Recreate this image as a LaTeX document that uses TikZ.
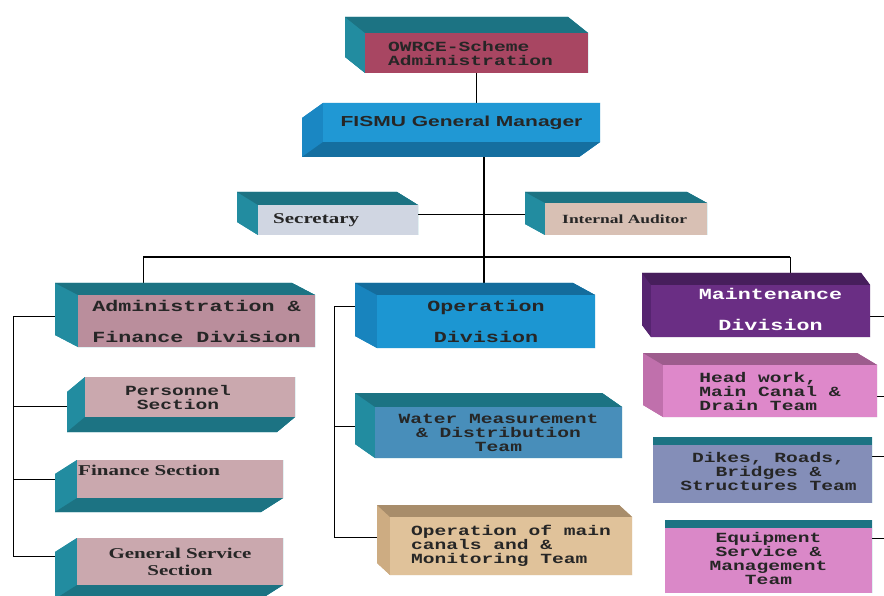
\documentclass[tikz,border=0pt]{standalone}
\usepackage{fontspec}
\newfontfamily\boxmono[FakeStretch=1.4]{Liberation Mono}
\newfontfamily\boxserif[FakeStretch=1.4]{Liberation Serif}
\newfontfamily\boxsans[FakeStretch=1.45]{Liberation Sans}
\usetikzlibrary{calc,fit,backgrounds}

\definecolor{sideteal}{RGB}{34,140,160}
\definecolor{owrcered}{RGB}{168,70,98}
\definecolor{fismublue}{RGB}{32,152,212}
\definecolor{fismuside}{RGB}{26,135,195}
\definecolor{secgrey}{RGB}{208,214,226}
\definecolor{audtan}{RGB}{216,192,180}
\definecolor{admmauve}{RGB}{186,142,156}
\definecolor{secmauve}{RGB}{202,168,174}
\definecolor{opblue}{RGB}{28,150,210}
\definecolor{opside}{RGB}{24,132,190}
\definecolor{watblue}{RGB}{72,142,186}
\definecolor{cantan}{RGB}{224,194,154}
\definecolor{canside}{RGB}{205,172,130}
\definecolor{mntpurple}{RGB}{106,46,132}
\definecolor{mntside}{RGB}{86,36,112}
\definecolor{hedpink}{RGB}{222,136,202}
\definecolor{hedside}{RGB}{192,112,172}
\definecolor{dikblue}{RGB}{132,142,184}
\definecolor{eqppink}{RGB}{218,136,200}

\def\orgdepthy#1,#2\relax{#2}
% #1 name, #2 front top left, #3 front bottom right, #4 depth,
% #5 front colour, #6 side colour, #7 text style, #8 text
\newcommand{\orgbox}[8]{%
  \coordinate (#1-nw) at (#2);
  \coordinate (#1-se) at (#3);
  \coordinate (#1-ne) at (#1-nw -| #1-se);
  \coordinate (#1-sw) at (#1-se -| #1-nw);
  \coordinate (#1-bnw) at ($(#1-nw)+(#4)$);
  \coordinate (#1-bne) at ($(#1-ne)+(#4)$);
  \coordinate (#1-bsw) at ($(#1-sw)+(#4)$);
  \coordinate (#1-bse) at ($(#1-se)+(#4)$);
  \fill[#6] (#1-nw) -- (#1-ne) -- (#1-bne) -- (#1-bnw) -- cycle;
  \fill[#6] (#1-sw) -- (#1-se) -- (#1-bse) -- (#1-bsw) -- cycle;
  \fill[#6] (#1-nw) -- (#1-sw) -- (#1-bsw) -- (#1-bnw) -- cycle;
  \fill[#6] (#1-ne) -- (#1-se) -- (#1-bse) -- (#1-bne) -- cycle;
  \fill[#6] (#1-bnw) rectangle (#1-bse);
  % darker top (or bottom) face
  \pgfmathsetmacro\orgdy{\orgdepthy#4\relax}
  \ifdim\orgdy pt<0pt
    \fill[#6!82!black] (#1-nw) -- (#1-ne) -- (#1-bne) -- (#1-bnw) -- cycle;
  \else
    \fill[#6!82!black] (#1-sw) -- (#1-se) -- (#1-bse) -- (#1-bsw) -- cycle;
  \fi
  \node[fit=(#1-nw)(#1-se),fill=#5] (#1) {};
  \node[#7] (#1-t) at (#1.center) {#8};
}

\begin{document}
\begin{tikzpicture}[x=1pt,y=-1pt,
    every node/.style={inner sep=0pt,text=black!85},
    link/.style={line width=.8pt},
    bus/.style={line width=1.8pt},
    txtmono/.style={font=\boxmono\bfseries\fontsize{14}{14}\selectfont,align=center},
    txtdiv/.style={font=\boxmono\bfseries\fontsize{15.5}{31}\selectfont,align=center},
    txtserif/.style={font=\boxserif\bfseries\fontsize{15}{17}\selectfont,align=center},
    txtsmall/.style={font=\boxserif\bfseries\fontsize{12.5}{15}\selectfont}]
  \useasboundingbox (0,0) rectangle (884,596);

  % top
  \orgbox{owrce}{365,33}{588,73}{-20,-16}{owrcered}{sideteal}
    {txtmono,align=left,xshift=-6pt}{OWRCE-Scheme\\Administration}
  \orgbox{fismu}{323,103}{600,142}{-21,15}{fismublue}{fismuside}
    {font=\boxsans\bfseries\fontsize{14.5}{17}\selectfont}{FISMU General Manager}

  % staff
  \orgbox{sec}{258,205}{418,235}{-21,-13}{secgrey}{sideteal}
    {txtserif,anchor=west,xshift=-65pt}{Secretary}
  \orgbox{aud}{545,203}{707,235}{-20,-11}{audtan}{sideteal}
    {txtsmall,anchor=west,xshift=-64pt}{Internal Auditor}

  % divisions
  \orgbox{adm}{78,295}{315,347}{-23,-12}{admmauve}{sideteal}
    {txtdiv}{Administration \&\\Finance Division}
  \orgbox{opd}{377,295}{595,348}{-22,-12}{opblue}{opside}
    {txtdiv}{Operation\\Division}
  \orgbox{mnt}{651,285}{870,337}{-9,-12}{mntpurple}{mntside}
    {txtdiv,text=white,xshift=10pt,yshift=2pt}{Maintenance\\Division}

  % sections and teams
  \orgbox{per}{85,377}{295,417}{-18,15}{secmauve}{sideteal}
    {txtmono,xshift=-12pt}{Personnel\\Section}
  \orgbox{fin}{77,460}{283,498}{-22,14}{secmauve}{sideteal}
    {txtserif,anchor=west,xshift=-102pt,yshift=9pt}{Finance Section}
  \orgbox{gen}{77,538}{283,585}{-22,14}{secmauve}{sideteal}
    {txtserif}{General Service\\Section}
  \orgbox{wat}{375,407}{622,458}{-20,-14}{watblue}{sideteal}
    {txtmono}{Water Measurement\\\& Distribution\\Team}
  \orgbox{can}{390,517}{632,575}{-13,-12}{cantan}{canside}
    {txtmono,align=left}{Operation of main\\canals and \&\\Monitoring Team}
  \orgbox{hed}{663,365}{877,417}{-20,-12}{hedpink}{hedside}
    {txtmono,align=left}{Head work,\\Main Canal \&\\Drain Team}
  \orgbox{dik}{653,445}{872,503}{0,-8}{dikblue}{sideteal}
    {txtmono,xshift=6pt,yshift=3pt}{Dikes, Roads,\\Bridges \&\\Structures Team}
  \orgbox{eqp}{665,528}{872,593}{0,-8}{eqppink}{sideteal}
    {txtmono,yshift=2pt}{Equipment\\Service \&\\Management\\Team}

  % links
  \coordinate (busl) at (143,257);
  \coordinate (busc) at (484,257);
  \coordinate (busr) at (790,257);
  \coordinate (lbus) at (13,0);
  \coordinate (mbus) at (334,0);
  \coordinate (edge) at (884,0);
  \begin{pgfonlayer}{background}
    \draw[link] (owrce.south) -- (owrce.south |- fismu.north);
    \draw[bus] (fismu.south -| busc) -- (opd.north -| busc);
    \draw[bus] (busl) -- (busr);
    \draw[link] (busl) -- (busl |- adm.north);
    \draw[link] (busr) -- (busr |- mnt.north);
    \draw[link] (sec.4) -- (sec.4 -| aud.west);
    % admin column
    \draw[link] (adm.178) -- (lbus |- adm.178) -- (lbus |- gen.177) -- (gen.177);
    \foreach \n/\a in {per/185,fin/180}
      \draw[link] (lbus |- \n.\a) -- (\n.\a);
    % operation column
    \draw[link] (opd.172) -- (mbus |- opd.172) -- (mbus |- can.176) -- (can.176);
    \draw[link] (mbus |- wat.177) -- (wat.177);
    % maintenance column
    \foreach \n/\a in {mnt/357,hed/357,dik/9,eqp/12}
      \draw[link] (\n.\a) -- (\n.\a -| edge);
  \end{pgfonlayer}
\end{tikzpicture}
\end{document}
